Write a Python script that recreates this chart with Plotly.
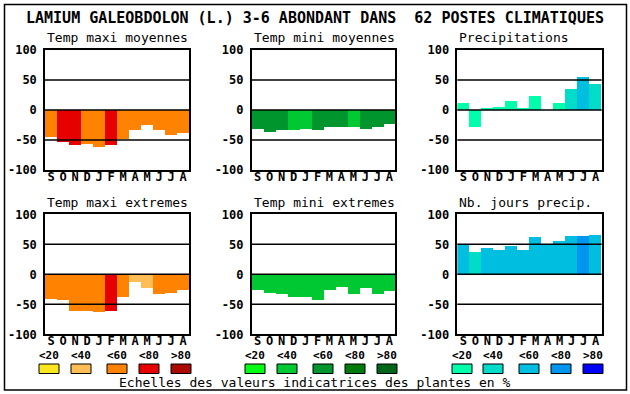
import plotly.graph_objects as go

W, H = 630, 394

months = ["S", "O", "N", "D", "J", "F", "M", "A", "M", "J", "J", "A"]

tmax_moy = [-45, -54, -58, -56, -61, -58, -48, -33, -25, -34, -41, -38]
tmax_moy_cls = [2, 3, 3, 2, 2, 3, 2, 2, 2, 2, 2, 2]
tmin_moy = [-31, -36, -34, -33, -32, -34, -28, -28, -28, -31, -28, -24]
tmin_moy_cls = [2, 2, 2, 1, 1, 2, 2, 2, 1, 2, 2, 2]
precip = [12, -28, 2, 5, 15, 2, 23, 0, 12, 35, 55, 44]
precip_cls = [0, 0, 0, 0, 0, 0, 0, 0, 0, 1, 2, 1]
tmax_ext = [-41, -44, -61, -61, -63, -61, -38, -14, -23, -34, -31, -26]
tmax_ext_cls = [2, 2, 2, 2, 2, 3, 2, 1, 1, 2, 2, 2]
tmin_ext = [-26, -31, -33, -38, -38, -43, -26, -21, -33, -24, -33, -28]
tmin_ext_cls = [1] * 12
njours = [49, 37, 43, 40, 47, 40, 62, 49, 55, 63, 63, 65]
njours_cls = [2, 1, 2, 2, 2, 2, 2, 2, 2, 2, 3, 2]

class_labels = ["<20", "<40", "<60", "<80", ">80"]
pal_warm = ["#FAE61E", "#FFBE55", "#FF8200", "#E60000", "#AA0A00"]
pal_green = ["#00FF14", "#00C832", "#00962D", "#007A0A", "#006419"]
pal_blue = ["#00FFAA", "#00DCC8", "#00BEE0", "#0096F0", "#0000FF"]

title = "LAMIUM GALEOBDOLON (L.) 3-6 ABONDANT DANS  62 POSTES CLIMATIQUES"
footer = "Echelles des valeurs indicatrices des plantes en %"

panels = [
    ("Temp maxi moyennes", tmax_moy, tmax_moy_cls, pal_warm),
    ("Temp mini moyennes", tmin_moy, tmin_moy_cls, pal_green),
    ("Precipitations", precip, precip_cls, pal_blue),
    ("Temp maxi extremes", tmax_ext, tmax_ext_cls, pal_warm),
    ("Temp mini extremes", tmin_ext, tmin_ext_cls, pal_green),
    ("Nb. jours precip.", njours, njours_cls, pal_blue),
]

# pixel layout of plot areas
xs_px = [(45, 189), (251.7, 395.3), (457.3, 601.7)]
ys_px = [(50, 170), (214.3, 334.3)]

MONO = "DejaVu Sans Mono"
fig = go.Figure()
shapes = []
annotations = []

for i, (name, vals, cls, pal) in enumerate(panels):
    r, c = divmod(i, 3)
    n = i + 1
    xa = "x" if n == 1 else f"x{n}"
    ya = "y" if n == 1 else f"y{n}"
    x0, x1 = xs_px[c]
    y0, y1 = ys_px[r]
    fig.add_trace(go.Bar(
        x=list(range(len(vals))), y=vals,
        marker=dict(color=[pal[k] for k in cls], line=dict(width=0)),
        width=1.0, xaxis=xa, yaxis=ya, showlegend=False, hoverinfo="skip",
    ))
    axk = "xaxis" if n == 1 else f"xaxis{n}"
    ayk = "yaxis" if n == 1 else f"yaxis{n}"
    fig.update_layout(**{
        axk: dict(domain=[x0 / W, x1 / W], range=[-0.5, 11.5], anchor=ya,
                  automargin=False,
                  tickmode="array", tickvals=list(range(12)), ticktext=months,
                  showgrid=False, zeroline=False, showline=True, mirror=True,
                  linecolor="black", linewidth=1.5, ticks="", layer="above traces",
                  ticklabelstandoff=-5,
                  tickfont=dict(family=MONO, size=12, color="black", weight="bold"),
                  fixedrange=True),
        ayk: dict(domain=[1 - y1 / H, 1 - y0 / H], range=[-100, 100], anchor=xa,
                  automargin=False,
                  tickmode="array", tickvals=[-100, -50, 0, 50, 100],
                  ticktext=["-100", "-50", "0", "50", "100"],
                  showgrid=False, zeroline=False, showline=True, mirror=True,
                  linecolor="black", linewidth=1.5, ticks="outside", ticklen=4,
                  tickcolor="rgba(0,0,0,0)", layer="above traces",
                  tickfont=dict(family=MONO, size=12, color="black", weight="bold"),
                  fixedrange=True),
    })
    for yv in (-50, 0, 50):
        shapes.append(dict(type="line", xref=f"{xa} domain", yref=ya,
                           x0=0, x1=1, y0=yv, y1=yv,
                           line=dict(color="black", width=1.5), layer="above"))
    annotations.append(dict(text=name, x=x0 / W, y=1 - (y0 - 12) / H,
                            xref="paper", yref="paper", xanchor="left", yanchor="middle",
                            showarrow=False,
                            font=dict(family=MONO, size=13, color="black")))

# title
annotations.append(dict(text=title, x=315 / W, y=1 - 18 / H, xref="paper", yref="paper",
                        xanchor="center", yanchor="middle", showarrow=False,
                        font=dict(family=MONO, size=15, color="black", weight="bold")))
# footer
annotations.append(dict(text=footer, x=315 / W, y=1 - 382.5 / H, xref="paper", yref="paper",
                        xanchor="center", yanchor="middle", showarrow=False,
                        font=dict(family=MONO, size=13, color="black")))

# legend swatches
group_x = [
    (pal_warm, [39, 71, 107, 139, 171]),
    (pal_green, [245, 277, 313, 345, 377]),
    (pal_blue, [452, 483, 519, 551, 583]),
]
for pal, xs in group_x:
    for k, bx in enumerate(xs):
        shapes.append(dict(type="rect", xref="paper", yref="paper",
                           x0=bx / W, x1=(bx + 20) / W, y0=1 - 373.5 / H, y1=1 - 364 / H,
                           fillcolor=pal[k], line=dict(color="black", width=1)))
        annotations.append(dict(text=class_labels[k], x=(bx + 10) / W, y=1 - 355 / H,
                                xref="paper", yref="paper", xanchor="center",
                                yanchor="middle", showarrow=False,
                                font=dict(family=MONO, size=11, color="black", weight="bold")))

# outer frame
shapes.append(dict(type="rect", xref="paper", yref="paper",
                   x0=4.5 / W, x1=626.5 / W, y0=1 - 390 / H, y1=1 - 4.5 / H,
                   line=dict(color="black", width=1.5)))

fig.update_layout(
    width=W, height=H, margin=dict(l=0, r=0, t=0, b=0, pad=0, autoexpand=False),
    paper_bgcolor="white", plot_bgcolor="white",
    bargap=0, shapes=shapes, annotations=annotations, showlegend=False,
)

fig.write_html(
    "out.html",
    config={"displayModeBar": False},
    post_script="document.body.style.margin='0';document.body.style.padding='0';"
                "document.documentElement.style.overflow='hidden';",
)
